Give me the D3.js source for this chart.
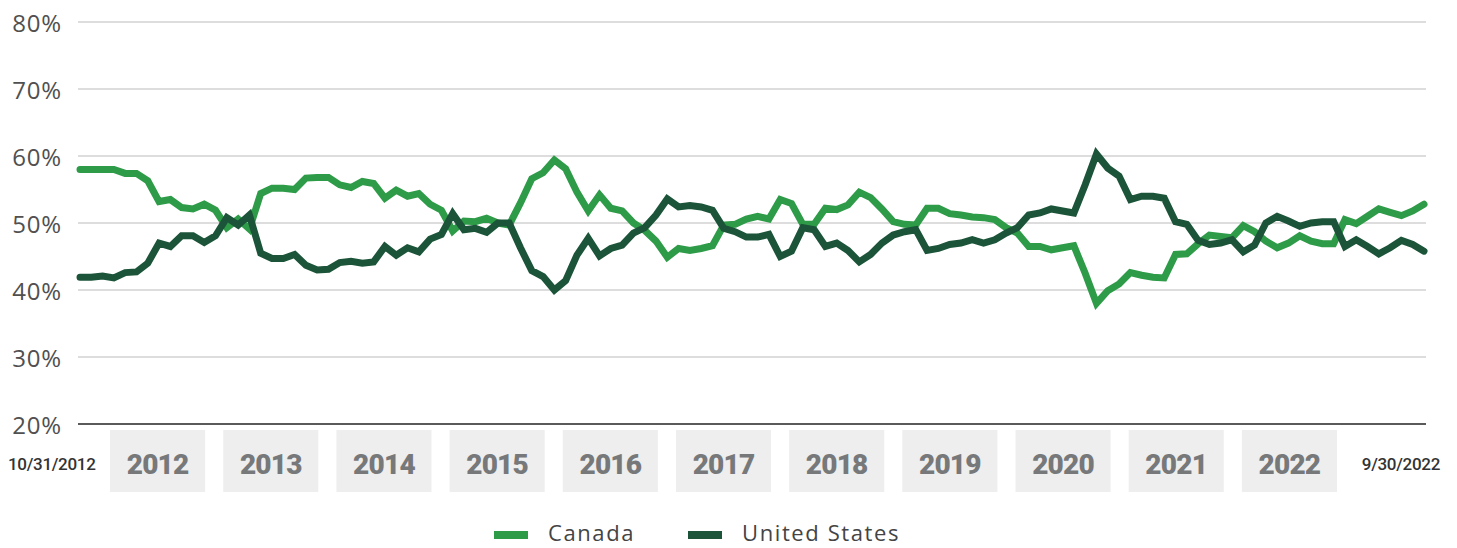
<!DOCTYPE html>
<html><head><meta charset="utf-8">
<script src="https://cdn.jsdelivr.net/npm/d3@7"></script>
<style>body{margin:0;background:#fff}svg{display:block}</style>
</head><body>
<svg id="c" width="1457" height="548"></svg>
<script>
// Monthly values, 10/31/2012 .. 9/30/2022 (120 months)
const canada = [
58.0,58.0,58.0,58.0,57.4,57.4,56.3,53.2,53.5,52.3,52.1,52.8,51.9,49.3,50.6,49.1,54.4,55.2,55.2,55.0,
56.7,56.8,56.8,55.7,55.3,56.2,55.9,53.7,54.9,54.0,54.4,52.8,51.9,48.8,50.3,50.2,50.7,50.0,49.7,53.0,
56.6,57.5,59.4,58.1,54.6,51.8,54.2,52.2,51.8,50.0,48.9,47.3,44.9,46.2,45.9,46.2,46.6,49.7,49.8,50.6,
51.0,50.6,53.5,52.9,49.8,49.8,52.2,52.0,52.7,54.6,53.8,52.1,50.2,49.8,49.7,52.2,52.2,51.4,51.2,50.9,
50.8,50.5,49.3,48.5,46.5,46.5,46.0,46.3,46.6,42.5,38.0,39.9,40.9,42.6,42.2,41.9,41.8,45.3,45.4,46.9,
48.2,48.0,47.8,49.6,48.7,47.3,46.3,47.0,48.1,47.3,46.9,46.9,50.5,49.9,51.0,52.1,51.6,51.1,51.8,52.8
];
const unitedStates = [
41.9,41.9,42.1,41.8,42.6,42.7,44.0,47.0,46.5,48.1,48.1,47.1,48.1,50.8,49.7,51.2,45.5,44.7,44.7,45.3,
43.7,43.0,43.1,44.1,44.3,44.0,44.2,46.5,45.2,46.3,45.7,47.6,48.3,51.4,49.0,49.2,48.6,50.0,50.0,46.3,
42.9,42.0,40.0,41.4,45.2,47.7,45.1,46.2,46.7,48.5,49.3,51.2,53.6,52.4,52.6,52.4,51.9,49.2,48.7,47.9,
47.9,48.3,45.0,45.8,49.3,49.0,46.5,47.0,45.9,44.2,45.3,47.0,48.2,48.7,49.0,45.9,46.2,46.8,47.0,47.5,
47.0,47.5,48.5,49.3,51.2,51.5,52.1,51.8,51.5,55.7,60.3,58.2,57.0,53.5,54.0,54.0,53.7,50.2,49.8,47.4,
46.8,47.0,47.5,45.7,46.7,50.0,51.0,50.3,49.5,50.0,50.2,50.2,46.5,47.5,46.5,45.4,46.3,47.4,46.8,45.8
];
const yTicks = [20, 30, 40, 50, 60, 70, 80];
const yearLabels = ["2012","2013","2014","2015","2016","2017","2018","2019","2020","2021","2022"];
const startLabel = "10/31/2012";
const endLabel = "9/30/2022";
const seriesNames = ["Canada", "United States"];
const seriesColors = ["#2e9b48", "#1b5438"];

const svg = d3.select("#c");
const left = 78, right = 1426;

const y = d3.scaleLinear().domain([20, 80]).range([424, 22]);
const x = d3.scaleLinear().domain([0, canada.length - 1]).range([80, 1424]);

// gridlines
svg.append("g").selectAll("line").data(yTicks.filter(t => t > 20)).join("line")
  .attr("x1", left).attr("x2", right)
  .attr("y1", d => y(d)).attr("y2", d => y(d))
  .attr("stroke", "#d2d2d2").attr("stroke-width", 1.3);

// baseline
svg.append("line").attr("x1", left).attr("x2", right)
  .attr("y1", y(20)).attr("y2", y(20))
  .attr("stroke", "#5a5a5a").attr("stroke-width", 2);

// y labels
svg.append("g").selectAll("text").data(yTicks).join("text")
  .attr("x", 62).attr("y", d => y(d))
  .attr("text-anchor", "end").attr("dominant-baseline", "central")
  .attr("font-family", "'Open Sans', sans-serif").attr("font-weight", 400)
  .attr("font-size", 24).attr("letter-spacing", 0.8).attr("fill", "#505050")
  .text(d => d + "%");

// year boxes
const xb = d3.scaleBand().domain(yearLabels).range([101, 1346]).paddingInner(0.16).paddingOuter(0.08);
const yg = svg.append("g");
yg.selectAll("rect").data(yearLabels).join("rect")
  .attr("x", d => xb(d)).attr("y", 430)
  .attr("width", xb.bandwidth()).attr("height", 62)
  .attr("fill", "#edeeed");
yg.selectAll("text").data(yearLabels).join("text")
  .attr("x", d => xb(d) + xb.bandwidth() / 2).attr("y", 464)
  .attr("text-anchor", "middle").attr("dominant-baseline", "central")
  .attr("font-family", "Roboto, sans-serif").attr("font-weight", 900)
  .attr("font-size", 28).attr("letter-spacing", -0.8).attr("fill", "#77787a")
  .text(d => d);

// start/end date labels
svg.append("text").attr("x", 8).attr("y", 464)
  .attr("dominant-baseline", "central")
  .attr("font-family", "Roboto, sans-serif").attr("font-weight", 500)
  .attr("font-size", 17).attr("letter-spacing", -0.3).attr("fill", "#333")
  .text(startLabel);
svg.append("text").attr("x", 1440).attr("y", 464)
  .attr("text-anchor", "end").attr("dominant-baseline", "central")
  .attr("font-family", "Roboto, sans-serif").attr("font-weight", 500)
  .attr("font-size", 17).attr("letter-spacing", -0.3).attr("fill", "#333")
  .text(endLabel);

// lines
const line = d3.line().x((d, i) => x(i)).y(d => y(d));
const series = [canada, unitedStates];
svg.append("g").selectAll("path").data(series).join("path")
  .attr("d", d => line(d))
  .attr("fill", "none")
  .attr("stroke", (d, i) => seriesColors[i])
  .attr("stroke-width", 7)
  .attr("stroke-linejoin", "miter").attr("stroke-miterlimit", 3)
  .attr("stroke-linecap", "round");

// legend
const legendX = [494, 688];
const lg = svg.append("g").selectAll("g").data(seriesNames).join("g")
  .attr("transform", (d, i) => `translate(${legendX[i]},535)`);
lg.append("rect").attr("x", 0).attr("y", -4).attr("width", 34).attr("height", 8)
  .attr("fill", (d, i) => seriesColors[i]);
lg.append("text").attr("x", 54).attr("y", -3).attr("dominant-baseline", "central")
  .attr("font-family", "'Open Sans', sans-serif").attr("font-weight", 400)
  .attr("font-size", 22).attr("letter-spacing", 1.6).attr("fill", "#444")
  .text(d => d);
</script>
</body></html>
